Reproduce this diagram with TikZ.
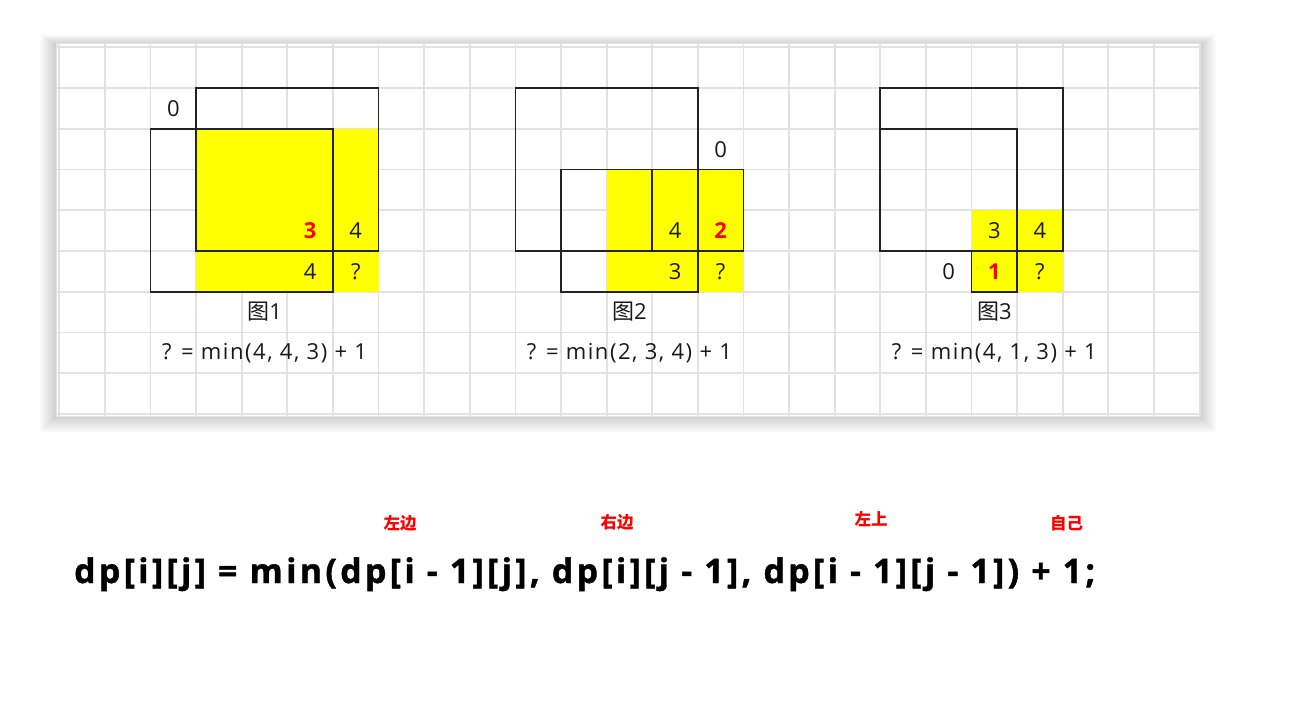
\documentclass[tikz,border=0pt]{standalone}
\usepackage{fontspec}
\setmainfont{Open Sans}
\newfontfamily\pnl{Open Sans}[LetterSpace=7]
\newfontfamily\eqf{Open Sans}[LetterSpace=10, BoldFeatures={FakeBold=1.3}]
\newfontfamily\cjk{Noto Sans CJK SC}
\definecolor{gridc}{RGB}{226,226,226}
\definecolor{ylw}{RGB}{255,255,0}
\definecolor{redc}{RGB}{255,0,0}
\definecolor{boxc}{RGB}{35,35,35}
\definecolor{txtc}{RGB}{25,25,25}
\begin{document}
\begin{tikzpicture}[x=1pt,y=-1pt,
  cellnum/.style={font=\pnl\fontsize{22}{24}\selectfont, text=txtc, inner sep=0pt},
  rednum/.style={font=\pnl\fontsize{22}{24}\selectfont\bfseries, text=redc, inner sep=0pt},
  figcap/.style={font=\pnl\fontsize{22}{24}\selectfont, text=txtc, inner sep=0pt},
  minf/.style={font=\pnl\fontsize{22}{24}\selectfont, text=txtc, inner sep=0pt},
  sqbox/.style={draw=boxc, line width=1.7pt},
  redlab/.style={font=\cjk\bfseries\fontsize{16.5}{18}\selectfont, text=redc, inner sep=0pt},
  eqlab/.style={font=\eqf\fontsize{31}{34}\selectfont\bfseries, text=black, inner sep=0pt}]
\useasboundingbox (0,0) rectangle (1290,708);
\fill[white] (0,0) rectangle (1290,708);
% soft shadow of the panel
\foreach \i in {1,...,16}{
  \fill[black,opacity=0.011] ({56-\i},{43.5-\i*0.6+1}) rectangle ({1200+\i},{416+\i*1.05});
}
\fill[white] (56,43.5) rectangle (1200,416);
\draw[gridc, line width=1pt] (56,43.5) rectangle (1200,416);
\begin{scope}[shift={(59.3pt,-47.3pt)}, x=45.61pt, y=-40.74pt]
  % grid
  \foreach \k in {0,...,25}{\draw[gridc, line width=1.8pt] (\k,-0.093) -- (\k,9.05);}
  \foreach \r in {0,...,9}{\draw[gridc, line width=1.8pt] (-0.072,\r) -- (25.01,\r);}
  % figure 1
  \fill[ylw] (3,2) rectangle (7,6);
  \draw[sqbox] (3,1) rectangle (7,5);
  \draw[sqbox] (2,2) rectangle (6,6);
  \node[cellnum] (a0) at (2.5,1.5) {0};
  \node[rednum]  (a3) at (5.5,4.5) {3};
  \node[cellnum] (a4u) at (6.5,4.5) {4};
  \node[cellnum] (a4l) at (5.5,5.5) {4};
  \node[cellnum] (aq) at (6.5,5.5) {?};
  \node[figcap] (acap) at (4.5,6.5) {{\cjk 图}1};
  \node[minf] (amin) at (4.5,7.5) {? = min(4, 4, 3) + 1};
  % figure 2
  \fill[ylw] (12,3) rectangle (15,6);
  \draw[sqbox] (10,1) rectangle (14,5);
  \draw[sqbox] (11,3) rectangle (14,6);
  \draw[sqbox] (13,3) rectangle (15,5);
  \node[cellnum] (b0) at (14.5,2.5) {0};
  \node[cellnum] (b4) at (13.5,4.5) {4};
  \node[rednum]  (b2) at (14.5,4.5) {2};
  \node[cellnum] (b3) at (13.5,5.5) {3};
  \node[cellnum] (bq) at (14.5,5.5) {?};
  \node[figcap] (bcap) at (12.5,6.5) {{\cjk 图}2};
  \node[minf] (bmin) at (12.5,7.5) {? = min(2, 3, 4) + 1};
  % figure 3
  \fill[ylw] (20,4) rectangle (22,6);
  \draw[sqbox] (18,1) rectangle (22,5);
  \draw[sqbox] (18,2) rectangle (21,5);
  \draw[sqbox] (20,5) rectangle (21,6);
  \node[cellnum] (c3) at (20.5,4.5) {3};
  \node[cellnum] (c4) at (21.5,4.5) {4};
  \node[cellnum] (c0) at (19.5,5.5) {0};
  \node[rednum]  (c1) at (20.5,5.5) {1};
  \node[cellnum] (cq) at (21.5,5.5) {?};
  \node[figcap] (ccap) at (20.5,6.5) {{\cjk 图}3};
  \node[minf] (cmin) at (20.5,7.5) {? = min(4, 1, 3) + 1};
\end{scope}
% recurrence
\node[redlab] (lzb) at (400,523) {左边};
\node[redlab] (lyb) at (617,522) {右边};
\node[redlab] (lzs) at (871,519.5) {左上};
\node[redlab] (lzj) at (1066.5,523) {自己};
\node[eqlab, anchor=base west] (eq) at (74,583) {\resizebox{1021pt}{!}{dp[i][j] = min(dp[i - 1][j], dp[i][j - 1], dp[i - 1][j - 1]) + 1;}};
\end{tikzpicture}
\end{document}
